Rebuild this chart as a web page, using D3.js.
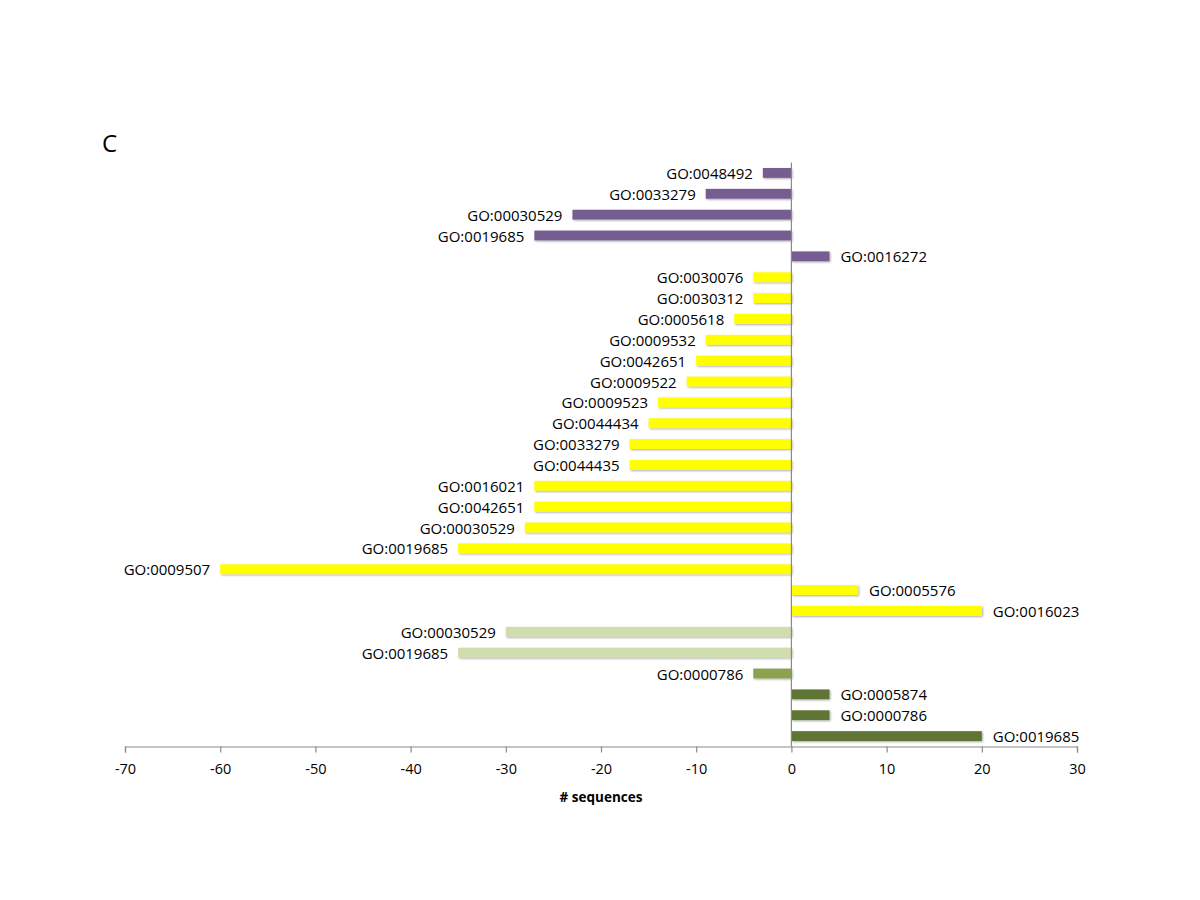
<!DOCTYPE html>
<html>
<head>
<meta charset="utf-8">
<script src="https://cdn.jsdelivr.net/npm/d3@7"></script>
<style>
  html, body { margin: 0; padding: 0; background: #ffffff; }
  svg { display: block; font-family: "Open Sans", "Noto Sans", sans-serif; }
</style>
</head>
<body>
<svg id="chart" width="1200" height="900"></svg>
<script>
// ---- data (top to bottom) ----
const terms = [
  "GO:0048492", "GO:0033279", "GO:00030529", "GO:0019685", "GO:0016272",
  "GO:0030076", "GO:0030312", "GO:0005618", "GO:0009532", "GO:0042651",
  "GO:0009522", "GO:0009523", "GO:0044434", "GO:0033279", "GO:0044435",
  "GO:0016021", "GO:0042651", "GO:00030529", "GO:0019685", "GO:0009507",
  "GO:0005576", "GO:0016023",
  "GO:00030529", "GO:0019685",
  "GO:0000786",
  "GO:0005874", "GO:0000786", "GO:0019685"
];
const counts = [
  -3, -9, -23, -27, 4,
  -4, -4, -6, -9, -10,
  -11, -14, -15, -17, -17,
  -27, -27, -28, -35, -60,
  7, 20,
  -30, -35,
  -4,
  4, 4, 20
];
const groups = [
  "A", "A", "A", "A", "A",
  "B", "B", "B", "B", "B",
  "B", "B", "B", "B", "B",
  "B", "B", "B", "B", "B",
  "B", "B",
  "C", "C",
  "D",
  "E", "E", "E"
];
const groupNames = ["A", "B", "C", "D", "E"];
const xTicks = [-70, -60, -50, -40, -30, -20, -10, 0, 10, 20, 30];
const xDomain = [-70, 30];
const xTitle = "# sequences";
const panelLetter = "C";

// ---- layout ----
const svg = d3.select("#chart");
const mLeft = 125, mRight = 1077, mTop = 162.5, mBottom = 746.5;

const x = d3.scaleLinear().domain(xDomain).range([mLeft, mRight]);
const y = d3.scaleBand()
  .domain(d3.range(terms.length))
  .range([mTop, mBottom])
  .paddingInner(0.53)
  .paddingOuter(0.265);
const color = d3.scaleOrdinal()
  .domain(groupNames)
  .range(["#755d92", "#ffff00", "#d0ddad", "#8ca250", "#5f7434"]);

// shadow filter
const defs = svg.append("defs");
const f = defs.append("filter").attr("id", "sh")
  .attr("x", "-5%").attr("y", "-40%").attr("width", "115%").attr("height", "200%");
f.append("feGaussianBlur").attr("in", "SourceAlpha").attr("stdDeviation", 0.9).attr("result", "b");
f.append("feOffset").attr("in", "b").attr("dx", 1).attr("dy", 1.2).attr("result", "o");
f.append("feComponentTransfer").attr("in", "o").attr("result", "o2")
  .append("feFuncA").attr("type", "linear").attr("slope", 0.35);
const mg = f.append("feMerge");
mg.append("feMergeNode").attr("in", "o2");
mg.append("feMergeNode").attr("in", "SourceGraphic");

const data = terms.map((t, i) => ({ i, term: t, v: counts[i], g: groups[i] }));

// bars
svg.append("g").selectAll("rect").data(data).join("rect")
  .attr("x", d => x(Math.min(0, d.v)))
  .attr("y", d => y(d.i))
  .attr("width", d => Math.abs(x(d.v) - x(0)))
  .attr("height", y.bandwidth())
  .attr("fill", d => color(d.g))
  .attr("filter", "url(#sh)");

// bar labels
svg.append("g").selectAll("text").data(data).join("text")
  .attr("x", d => d.v < 0 ? x(d.v) - 10 : x(d.v) + 11)
  .attr("y", d => y(d.i) + y.bandwidth() / 2)
  .attr("dy", "0.4em")
  .attr("text-anchor", d => d.v < 0 ? "end" : "start")
  .attr("font-size", "15px")
  .attr("fill", "#000")
  .text(d => d.term);

// zero line
svg.append("line")
  .attr("x1", x(0)).attr("x2", x(0))
  .attr("y1", mTop).attr("y2", mBottom)
  .attr("stroke", "#8a8a8a").attr("stroke-width", 1.2);

// x axis
const xAxis = d3.axisBottom(x).tickValues(xTicks).tickSize(6).tickPadding(11).tickFormat(d3.format("d"));
const ax = svg.append("g").attr("transform", `translate(0,${mBottom})`).call(xAxis);
ax.select(".domain").attr("stroke", "#8a8a8a").attr("stroke-width", 1.2);
ax.selectAll(".tick line").attr("stroke", "#8a8a8a").attr("stroke-width", 1.2);
ax.selectAll(".tick text")
  .attr("font-size", "14.5px")
  .attr("font-family", "'Open Sans', 'Noto Sans', sans-serif")
  .attr("fill", "#000")
  .text(d => d < 0 ? "-" + Math.abs(d) : d);

// axis title
svg.append("text")
  .attr("x", (mLeft + mRight) / 2)
  .attr("y", 802)
  .attr("text-anchor", "middle")
  .attr("font-size", "13.5px")
  .attr("font-weight", "bold")
  .attr("fill", "#000")
  .text(xTitle);

// panel letter
svg.append("text")
  .attr("x", 102)
  .attr("y", 152)
  .attr("font-size", "24px")
  .attr("fill", "#000")
  .text(panelLetter);
</script>
</body>
</html>
